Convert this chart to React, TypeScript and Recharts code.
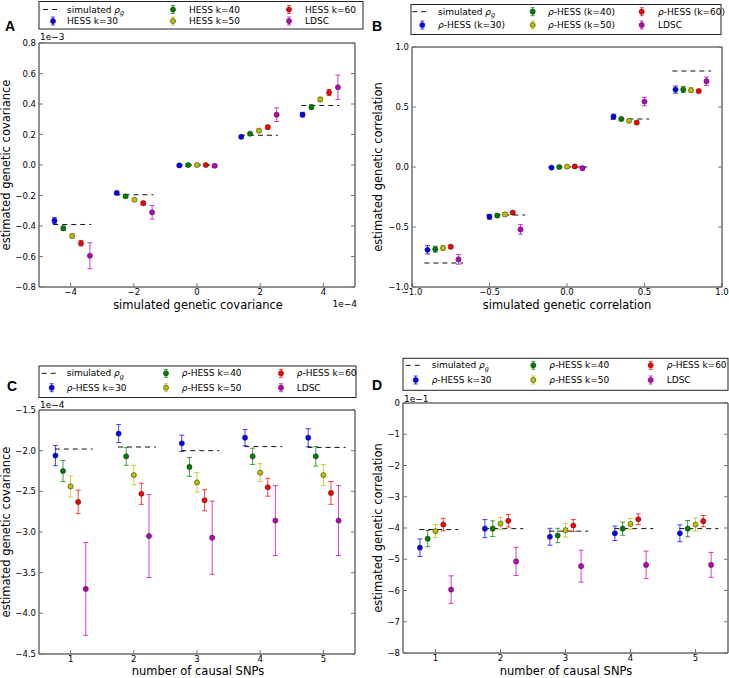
import React from 'react';
import { ScatterChart, Scatter, XAxis, YAxis, ErrorBar, ReferenceLine } from 'recharts';

const COLORS = ['#0000ff', '#008000', '#bfbf00', '#ff0000', '#bf00bf'];
const FONT = '"DejaVu Sans", Verdana, sans-serif';

// A: genetic covariance (x in 1e-4, y in 1e-3)
const covSimulated = [-3.95, -1.98, 0, 1.96, 3.9];
const covTruth = [-0.39, -0.195, 0, 0.195, 0.39];
const covOffsets = [-0.56, -0.28, 0, 0.28, 0.56];
const covEst = [
  [-0.365, -0.183, -0.003, 0.185, 0.33],
  [-0.415, -0.205, 0.0, 0.205, 0.38],
  [-0.465, -0.228, 0.0, 0.225, 0.43],
  [-0.513, -0.25, 0.0, 0.248, 0.475],
  [-0.595, -0.31, -0.005, 0.33, 0.51],
];
const covErr = [
  [0.02, 0.01, 0.008, 0.01, 0.015],
  [0.015, 0.01, 0.008, 0.01, 0.015],
  [0.015, 0.01, 0.008, 0.01, 0.015],
  [0.018, 0.012, 0.008, 0.012, 0.02],
  [0.085, 0.045, 0.01, 0.045, 0.08],
];

// B: genetic correlation
const corSimulated = [-0.8, -0.4, 0, 0.4, 0.8];
const corOffsets = [-0.1, -0.05, 0, 0.05, 0.1];
const corEst = [
  [-0.69, -0.415, -0.005, 0.42, 0.645],
  [-0.685, -0.405, 0.0, 0.4, 0.645],
  [-0.675, -0.395, 0.003, 0.385, 0.64],
  [-0.665, -0.38, 0.005, 0.37, 0.633],
  [-0.77, -0.52, -0.01, 0.545, 0.715],
];
const corErr = [
  [0.035, 0.02, 0.01, 0.02, 0.03],
  [0.025, 0.015, 0.01, 0.015, 0.025],
  [0.02, 0.015, 0.01, 0.015, 0.02],
  [0.015, 0.012, 0.01, 0.012, 0.015],
  [0.04, 0.04, 0.015, 0.035, 0.035],
];

// C, D: number of causal SNPs
const causalSnps = [1, 2, 3, 4, 5];
const snpOffsets = [-0.24, -0.12, 0, 0.12, 0.24];
const snpCovTruth = [-1.98, -1.955, -2.0, -1.95, -1.96];
const snpCovEst = [
  [-2.06, -1.79, -1.91, -1.84, -1.84],
  [-2.25, -2.07, -2.2, -2.07, -2.07],
  [-2.44, -2.3, -2.39, -2.27, -2.3],
  [-2.63, -2.53, -2.61, -2.45, -2.52],
  [-3.7, -3.05, -3.07, -2.86, -2.86],
];
const snpCovErr = [
  [0.125, 0.11, 0.1, 0.1, 0.11],
  [0.13, 0.11, 0.115, 0.1, 0.12],
  [0.13, 0.12, 0.12, 0.11, 0.13],
  [0.145, 0.13, 0.13, 0.11, 0.14],
  [0.57, 0.51, 0.45, 0.43, 0.43],
];
const snpCorTruth = [-4.05, -4.02, -4.1, -4.02, -4.02];
const snpCorEst = [
  [-4.63, -4.02, -4.28, -4.17, -4.17],
  [-4.34, -4.02, -4.24, -4.02, -4.02],
  [-4.1, -3.86, -4.07, -3.87, -3.89],
  [-3.89, -3.77, -3.92, -3.72, -3.78],
  [-5.97, -5.07, -5.22, -5.18, -5.18],
];
const snpCorErr = [
  [0.28, 0.29, 0.27, 0.23, 0.27],
  [0.26, 0.25, 0.23, 0.21, 0.26],
  [0.21, 0.2, 0.22, 0.17, 0.21],
  [0.2, 0.2, 0.19, 0.17, 0.18],
  [0.44, 0.45, 0.51, 0.44, 0.4],
];

const covXTicks = [-4, -2, 0, 2, 4];
const covYTicks = [-0.8, -0.6, -0.4, -0.2, 0, 0.2, 0.4, 0.6, 0.8];
const corTicks = [-1, -0.5, 0, 0.5, 1];
const snpCovYTicks = [-4.5, -4, -3.5, -3, -2.5, -2, -1.5];
const snpCorYTicks = [-8, -7, -6, -5, -4, -3, -2, -1, 0];

const labelsA = ['simulated ρ_g', 'HESS k=30', 'HESS k=40', 'HESS k=50', 'HESS k=60', 'LDSC'];
const labelsB = ['simulated ρ_g', 'ρ-HESS (k=30)', 'ρ-HESS (k=40)', 'ρ-HESS (k=50)', 'ρ-HESS (k=60)', 'LDSC'];
const labelsCD = ['simulated ρ_g', 'ρ-HESS k=30', 'ρ-HESS k=40', 'ρ-HESS k=50', 'ρ-HESS k=60', 'LDSC'];

const minus = (s: string) => s.replace('-', '\u2212');
const fmt0 = (v: number) => minus(String(v));
const fmt1 = (v: number) => minus(v.toFixed(1));

const Dot = (color: string) => (p: any) => (
  <circle cx={p.cx} cy={p.cy} r={2.6} fill={color} stroke="#222" strokeWidth={0.5} />
);

// plot box is given directly; axes are 1px thick so the margins shrink by one
function Panel(props: any) {
  const { left, top, width, height, box, xDomain, xTicks, yDomain, yTicks, xFmt, yFmt,
    centers, offsets, est, err, truth, span } = props;
  const margin = {
    top: box.top - 1,
    left: box.left - 1,
    right: width - box.right - 1,
    bottom: height - box.bottom - 1,
  };
  const series = est.map((row: number[], s: number) =>
    row.map((y, i) => ({ x: centers[i] + offsets[s], y, err: err[s][i] })));
  const tickFont = { fontSize: 8.5, fill: '#000', fontFamily: FONT };
  const common = { tickSize: -4, tickLine: { stroke: '#777' }, axisLine: { stroke: '#222' }, allowDataOverflow: true, interval: 0 as const };
  return (
    <div style={{ position: 'absolute', left, top }}>
      <ScatterChart width={width} height={height} margin={margin}>
        <XAxis type="number" dataKey="x" domain={xDomain} ticks={xTicks} tickFormatter={xFmt}
          height={1} tickMargin={6} tick={tickFont} {...common} />
        <XAxis xAxisId="top" orientation="top" type="number" domain={xDomain} ticks={xTicks}
          height={1} tick={() => <g />} {...common} />
        <YAxis type="number" dataKey="y" domain={yDomain} ticks={yTicks} tickFormatter={yFmt}
          width={1} tickMargin={7} tick={tickFont} {...common} />
        <YAxis yAxisId="right" orientation="right" type="number" domain={yDomain} ticks={yTicks}
          width={1} tick={() => <g />} {...common} />
        {truth.map((t: number, i: number) => (
          <ReferenceLine key={i} segment={[{ x: centers[i] + span[0], y: t }, { x: centers[i] + span[1], y: t }]}
            stroke="#111" strokeDasharray="5 4" strokeWidth={1} />
        ))}
        {series.map((d: any[], s: number) => (
          <Scatter key={s} data={d} fill={COLORS[s]} isAnimationActive={false} shape={Dot(COLORS[s])}>
            <ErrorBar dataKey="err" direction="y" width={2.5} stroke={COLORS[s]} strokeWidth={1} strokeOpacity={0.75} />
          </Scatter>
        ))}
      </ScatterChart>
    </div>
  );
}

function renderLabel(label: string) {
  if (label.includes('ρ_g')) {
    const [pre] = label.split('ρ_g');
    return [pre, <tspan key="r" fontStyle="italic">ρ</tspan>,
      <tspan key="g" fontStyle="italic" fontSize={6.5} dy={2.5}>g</tspan>];
  }
  if (label.startsWith('ρ')) {
    return [<tspan key="r" fontStyle="italic">ρ</tspan>, label.slice(1)];
  }
  return label;
}

function LegendBox({ cfg, labels }: any) {
  const { x, y, w, h, icons, texts, rows } = cfg;
  return (
    <g>
      <rect x={x} y={y} width={w} height={h} fill="#fff" stroke="#222" strokeWidth={1} />
      {labels.map((lab: string, i: number) => {
        const col = Math.floor(i / 2);
        const ry = rows[i % 2];
        const cx = icons[col];
        return (
          <g key={i}>
            {i === 0 ? (
              <line x1={cx - 10} x2={cx + 4} y1={ry} y2={ry} stroke="#111" strokeDasharray="5 4" />
            ) : (
              <g>
                <line x1={cx} x2={cx} y1={ry - 4} y2={ry + 4} stroke={COLORS[i - 1]} strokeOpacity={0.75} />
                <line x1={cx - 2} x2={cx + 2} y1={ry - 4} y2={ry - 4} stroke={COLORS[i - 1]} strokeOpacity={0.75} />
                <line x1={cx - 2} x2={cx + 2} y1={ry + 4} y2={ry + 4} stroke={COLORS[i - 1]} strokeOpacity={0.75} />
                <circle cx={cx} cy={ry} r={2.6} fill={COLORS[i - 1]} stroke="#222" strokeWidth={0.5} />
              </g>
            )}
            <text x={texts[col]} y={ry} dy="0.35em" fontSize={9} fontFamily={FONT} fill="#000">
              {renderLabel(lab)}
            </text>
          </g>
        );
      })}
    </g>
  );
}

const legendA = { x: 39, y: 1.5, w: 324, h: 27.5, icons: [53, 173, 289], texts: [67, 189, 305], rows: [9.5, 21] };
const legendB = { x: 411, y: 4.5, w: 310, h: 30, icons: [422.3, 532.7, 641.7], texts: [438, 548, 658], rows: [11.7, 25] };
const legendC = { x: 39, y: 366, w: 317, h: 31.5, icons: [51.7, 166, 281], texts: [66.7, 181.7, 296.7], rows: [373.3, 387.7] };
const legendD = { x: 403, y: 358.3, w: 325, h: 32, icons: [415.7, 533.3, 650.7], texts: [431.7, 549.3, 666.7], rows: [365.3, 380] };

export default function App() {
  const title = { fontSize: 11.5, fontFamily: FONT, fill: '#000' };
  const letter = { fontSize: 14, fontWeight: 700, fontFamily: '"Liberation Sans", Arial, sans-serif', fill: '#000' };
  const small = { fontSize: 9, fontFamily: FONT, fill: '#000' };
  return (
    <div style={{ position: 'absolute', left: 0, top: 0, width: 729, height: 678, background: '#fff', overflow: 'hidden' }}>
      <Panel left={0} top={0} width={365} height={320} box={{ top: 43, bottom: 287, left: 39, right: 355 }}
        xDomain={[-5, 5]} xTicks={covXTicks} xFmt={fmt0} yDomain={[-0.8, 0.8]} yTicks={covYTicks} yFmt={fmt1}
        centers={covSimulated} offsets={covOffsets} est={covEst} err={covErr} truth={covTruth} span={[-0.6, 0.6]} />
      <Panel left={365} top={0} width={364} height={320} box={{ top: 47, bottom: 287, left: 47, right: 357 }}
        xDomain={[-1, 1]} xTicks={corTicks} xFmt={fmt1} yDomain={[-1, 1]} yTicks={corTicks} yFmt={fmt1}
        centers={corSimulated} offsets={corOffsets} est={corEst} err={corErr} truth={corSimulated} span={[-0.12, 0.13]} />
      <Panel left={0} top={330} width={365} height={348} box={{ top: 80, bottom: 324, left: 39, right: 355 }}
        xDomain={[0.5, 5.5]} xTicks={causalSnps} xFmt={fmt0} yDomain={[-4.5, -1.5]} yTicks={snpCovYTicks} yFmt={fmt1}
        centers={causalSnps} offsets={snpOffsets} est={snpCovEst} err={snpCovErr} truth={snpCovTruth} span={[-0.25, 0.35]} />
      <Panel left={365} top={330} width={364} height={348} box={{ top: 73, bottom: 323, left: 38, right: 363 }}
        xDomain={[0.5, 5.5]} xTicks={causalSnps} xFmt={fmt0} yDomain={[-8, 0]} yTicks={snpCorYTicks} yFmt={fmt0}
        centers={causalSnps} offsets={snpOffsets} est={snpCorEst} err={snpCorErr} truth={snpCorTruth} span={[-0.25, 0.35]} />

      <svg width={729} height={678} style={{ position: 'absolute', left: 0, top: 0, pointerEvents: 'none' }}>
        <LegendBox cfg={legendA} labels={labelsA} />
        <LegendBox cfg={legendB} labels={labelsB} />
        <LegendBox cfg={legendC} labels={labelsCD} />
        <LegendBox cfg={legendD} labels={labelsCD} />

        <text x={5} y={31} {...letter}>A</text>
        <text x={372} y={31} {...letter}>B</text>
        <text x={7} y={391} {...letter}>C</text>
        <text x={372} y={390} {...letter}>D</text>

        <text x={40} y={40} {...small}>1e{'\u2212'}3</text>
        <text x={357} y={306.5} textAnchor="end" {...small}>1e{'\u2212'}4</text>
        <text x={40} y={408} {...small}>1e{'\u2212'}4</text>
        <text x={404} y={401.5} {...small}>1e{'\u2212'}1</text>

        <text x={198} y={309} textAnchor="middle" {...title}>simulated genetic covariance</text>
        <text x={567} y={309} textAnchor="middle" {...title}>simulated genetic correlation</text>
        <text x={198} y={675} textAnchor="middle" {...title}>number of causal SNPs</text>
        <text x={566} y={675} textAnchor="middle" {...title}>number of causal SNPs</text>

        <text transform="translate(10,165) rotate(-90)" textAnchor="middle" {...title}>estimated genetic covariance</text>
        <text transform="translate(381.5,167) rotate(-90)" textAnchor="middle" {...title}>estimated genetic correlation</text>
        <text transform="translate(10,532) rotate(-90)" textAnchor="middle" {...title}>estimated genetic covariance</text>
        <text transform="translate(381.5,528) rotate(-90)" textAnchor="middle" {...title}>estimated genetic correlation</text>
      </svg>
    </div>
  );
}
